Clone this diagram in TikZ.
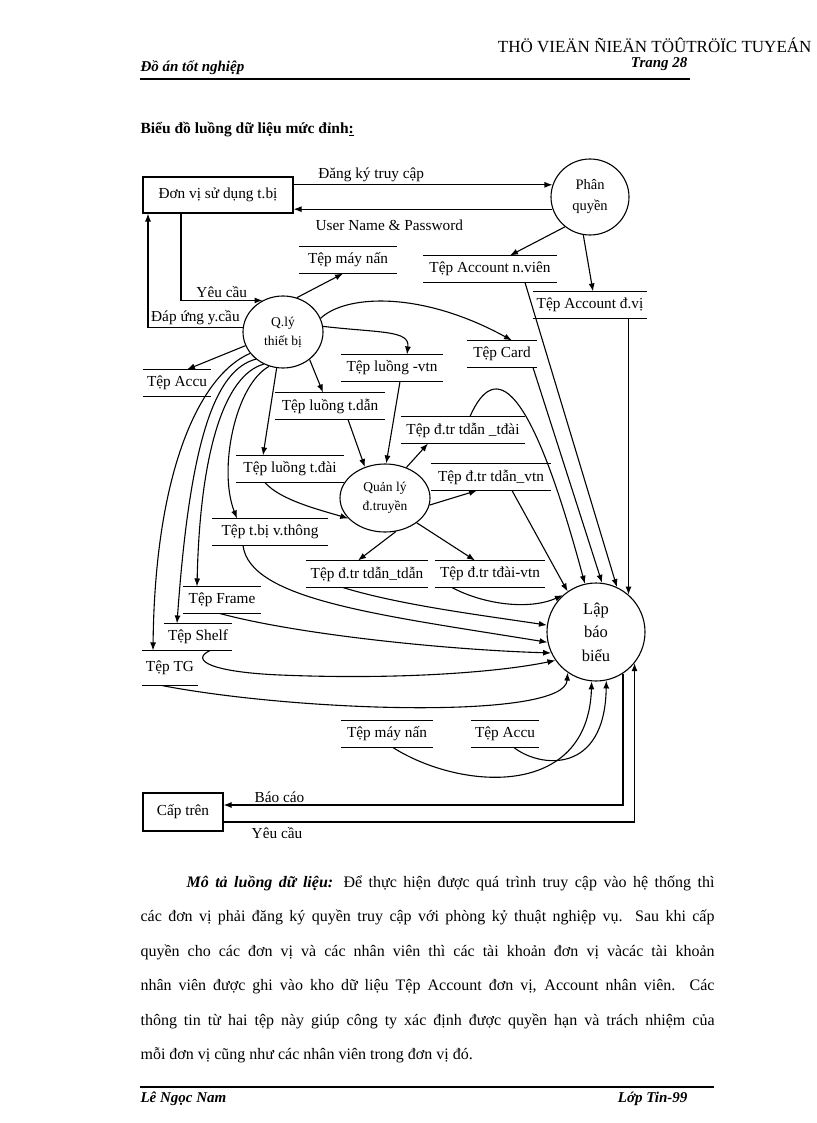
\documentclass[tikz,border=0pt]{standalone}
\usepackage{fontspec}
\setmainfont{Liberation Serif}
\usetikzlibrary{arrows.meta,shapes.geometric}
\tikzset{
every picture/.style={
line width=1.1pt
}}
\newcommand{\diafont}{\fontsize{15.3}{17}\selectfont}
\newcommand{\procfont}{\fontsize{13.5}{19}\selectfont}
\newcommand{\bodyfont}{\fontsize{16}{34.5}\selectfont}
\newcommand{\handfont}{\bfseries\itshape\fontsize{15}{18}\selectfont}
\tikzset{
procbox/.style={draw, rectangle, font=\diafont, inner sep=2pt},
proc/.style={draw, ellipse, align=center, inner sep=0pt, font=\procfont},
store/.style={font=\diafont, inner sep=0pt, minimum height=26pt,
  append after command={(\tikzlastnode.north west) edge[-] (\tikzlastnode.north east)
  (\tikzlastnode.south west) edge[-] (\tikzlastnode.south east)}},
lbl/.style={font=\diafont, inner sep=2pt}
}

\begin{document}
\begin{tikzpicture}[x=1pt,y=-1pt,->,>={Latex[length=8pt,width=6pt]}]
\useasboundingbox (0,0) rectangle (816,1123);
\fill[white] (0,0) rectangle (816,1123);

% page head and foot
\node[anchor=east, font=\fontsize{17}{20}\selectfont, inner sep=0] (head) at (812,45) {THÖ VIEÄN ÑIEÄN TÖÛTRÖÏC TUYEÁN};
\node[anchor=east, font=\handfont, inner sep=0] (page) at (688,64) {Trang 28};
\node[anchor=west, font=\handfont, inner sep=0] (thesis) at (140,68) {Đồ án tốt nghiệp};
\draw[-, line width=2.4pt] (140,79) -- (690,79);
\draw[-, line width=2.4pt] (140,1087) -- (714,1087);
\node[anchor=west, font=\handfont, inner sep=0] (author) at (140,1099) {Lê Ngọc Nam};
\node[anchor=east, font=\handfont, inner sep=0] (class) at (688,1099) {Lớp Tin-99};

\node[anchor=west, font=\bfseries\fontsize{15.5}{18}\selectfont, inner sep=0] (title) at (140,130) {Biểu đồ luồng dữ liệu mức đỉnh\underline{:}};

% processes and outer units
\node[procbox, minimum width=150pt, minimum height=36pt] (unit) at (218,195) {Đơn vị sử dụng t.bị};
\node[proc, minimum width=78pt, minimum height=76pt, font=\fontsize{14.5}{21}\selectfont] (perm) at (590,197) {Phân\\quyền};
\node[proc, minimum width=80pt, minimum height=72pt] (equip) at (283,332) {Q.lý\\thiết bị};
\node[proc, minimum width=90pt, minimum height=68pt] (trans) at (385,498) {Quản lý\\đ.truyền};
\node[proc, minimum width=98pt, minimum height=98pt, font=\fontsize{16.5}{23.5}\selectfont] (report) at (596,632) {Lập\\báo\\biểu};
\node[procbox, minimum width=80pt, minimum height=38pt] (boss) at (183,812) {Cấp trên};

% data stores
\node[store, minimum width=97pt] (fanfile) at (348,260) {Tệp máy nấn};
\node[store, minimum width=133pt] (accstaff) at (490,269) {Tệp Account n.viên};
\node[store, minimum width=113pt] (accunit) at (590,305) {Tệp Account đ.vị};
\node[store, minimum width=67pt] (accufile) at (177,383) {Tệp Accu};
\node[store, minimum width=69pt] (cardfile) at (502,354) {Tệp Card};
\node[store, minimum width=100pt] (vtnflow) at (392,368) {Tệp luồng -vtn};
\node[store, minimum width=109pt] (wireflow) at (330,406) {Tệp luồng t.dẫn};
\node[store, minimum width=106pt] (stationflow) at (290,469) {Tệp luồng t.đài};
\node[store, minimum width=123pt] (wirestation) at (463,430) {Tệp đ.tr tdẫn \_tđài};
\node[store, minimum width=118pt] (wirevtn) at (491,477) {Tệp đ.tr tdẫn\_vtn};
\node[store, minimum width=115pt] (devfile) at (270,532) {Tệp t.bị v.thông};
\node[store, minimum width=121pt] (wirewire) at (367,574) {Tệp đ.tr tdẫn\_tdẫn};
\node[store, minimum width=109pt] (stationvtn) at (490,574) {Tệp đ.tr tđài-vtn};
\node[store, minimum width=76pt] (framefile) at (222,600) {Tệp Frame};
\node[store, minimum width=67pt] (shelffile) at (198,637) {Tệp Shelf};
\node[store, minimum width=54pt, minimum height=34pt] (tgfile) at (170,668) {Tệp TG};
\node[store, minimum width=91pt] (fanfile2) at (387,734) {Tệp máy nấn};
\node[store, minimum width=67pt] (accufile2) at (505,734) {Tệp Accu};

% flows
\path (unit.east |- perm.162) edge node[lbl, above, pos=0.3] {Đăng ký truy cập} (perm.162)
(perm.198) edge node[lbl, below=8pt, pos=0.63] {User Name \& Password} (unit.east |- perm.198)
(perm.230) edge ([xshift=20pt]accstaff.north)
(perm.260) edge ([xshift=3pt]accunit.north)
(accunit.south -| report.49) edge (report.49)
([xshift=35pt]accstaff.south) edge (report.65)
([xshift=31pt]cardfile.south) edge (report.83)
(equip.68) edge ([xshift=-5pt]fanfile.south)
(equip.200) edge ([xshift=10pt]accufile.north)
(equip.314) edge ([xshift=-7pt]wireflow.north)
(equip.260) edge ([xshift=-27pt]stationflow.north)
([xshift=18pt]wireflow.south) edge (trans.123)
([xshift=8pt]vtnflow.south) edge (trans.88)
(trans.55) edge ([xshift=-35pt]wirestation.south)
(trans.351) edge ([xshift=-14pt]wirevtn.south)
(trans.288) edge ([xshift=-9pt]wirewire.north)
(trans.322) edge ([xshift=-15pt]stationvtn.north)
([xshift=21pt]wirevtn.south) edge (report.125);

\draw ([xshift=-37pt]unit.south) |- node[lbl, above, pos=0.75] {Yêu cầu} (equip.123);
\draw (equip.173) -| node[lbl, above, pos=0.25] {Đáp ứng y.cầu} ([xshift=-70pt]unit.south);

\draw (equip.20) .. controls (345,295) and (420,290) .. ([xshift=10pt]cardfile.north);
\draw (equip.8) .. controls (380,333) and (410,330) .. ([xshift=15pt]vtnflow.north);
\draw (equip.248) .. controls (235,385) and (218,470) .. ([xshift=-33pt]devfile.north);
\draw (equip.239) .. controls (225,375) and (200,450) .. ([xshift=-25pt]framefile.north);
\draw (equip.225) .. controls (215,370) and (190,440) .. ([xshift=-21pt]shelffile.north);
\draw (equip.213) .. controls (200,375) and (155,470) .. ([xshift=-17pt]tgfile.north);
\draw ([xshift=-25pt]stationflow.south) .. controls (280,500) and (320,510) .. (trans.209);

\draw ([xshift=7pt]wirestation.north) .. controls (495,360) and (530,380) .. (report.103);
\draw ([xshift=-38pt]stationvtn.south) .. controls (485,605) and (530,610) .. (report.132);
\draw ([xshift=-24pt]wirewire.south) .. controls (400,605) and (480,615) .. (report.172);
\draw ([xshift=-27pt]devfile.south) .. controls (250,600) and (380,615) .. (report.192);
\draw ([xshift=-2pt]framefile.south) .. controls (300,635) and (450,650) .. (report.205);
\draw ([xshift=12pt]shelffile.south) .. controls (190,660) and (210,672) .. (280,675)
  .. controls (400,680) and (500,672) .. (report.215);
\draw ([xshift=-8pt]tgfile.south) .. controls (300,712) and (565,720) .. (report.235);
\draw ([xshift=6pt]fanfile2.south) .. controls (460,790) and (588,800) .. (report.265);
\draw ([xshift=9pt]accufile2.south) .. controls (540,768) and (605,775) .. (report.282);

\draw (report.303) |- node[lbl, above, pos=0.93] {Báo cáo} ([yshift=7pt]boss.east);
\draw ([yshift=-10pt]boss.east) -| node[lbl, below=3pt, pos=0.065] {Yêu cầu} (report.321);

% description
\node[anchor=north west, text width=574pt, align=justify, font=\bodyfont, inner sep=0] (desc) at (140,875)
{\hspace*{46pt}\textbf{\textit{Mô tả luồng dữ liệu:}} Để thực hiện được quá trình truy cập vào hệ thống thì\linebreak
các đơn vị phải đăng ký quyền truy cập với phòng kỷ thuật nghiệp vụ. Sau khi cấp\linebreak
quyền cho các đơn vị và các nhân viên thì các tài khoản đơn vị vàcác tài khoản\linebreak
nhân viên được ghi vào kho dữ liệu Tệp Account đơn vị, Account nhân viên. Các\linebreak
thông tin từ hai tệp này giúp công ty xác định được quyền hạn và trách nhiệm của\linebreak
mỗi đơn vị cũng như các nhân viên trong đơn vị đó.};
\end{tikzpicture}
\end{document}
